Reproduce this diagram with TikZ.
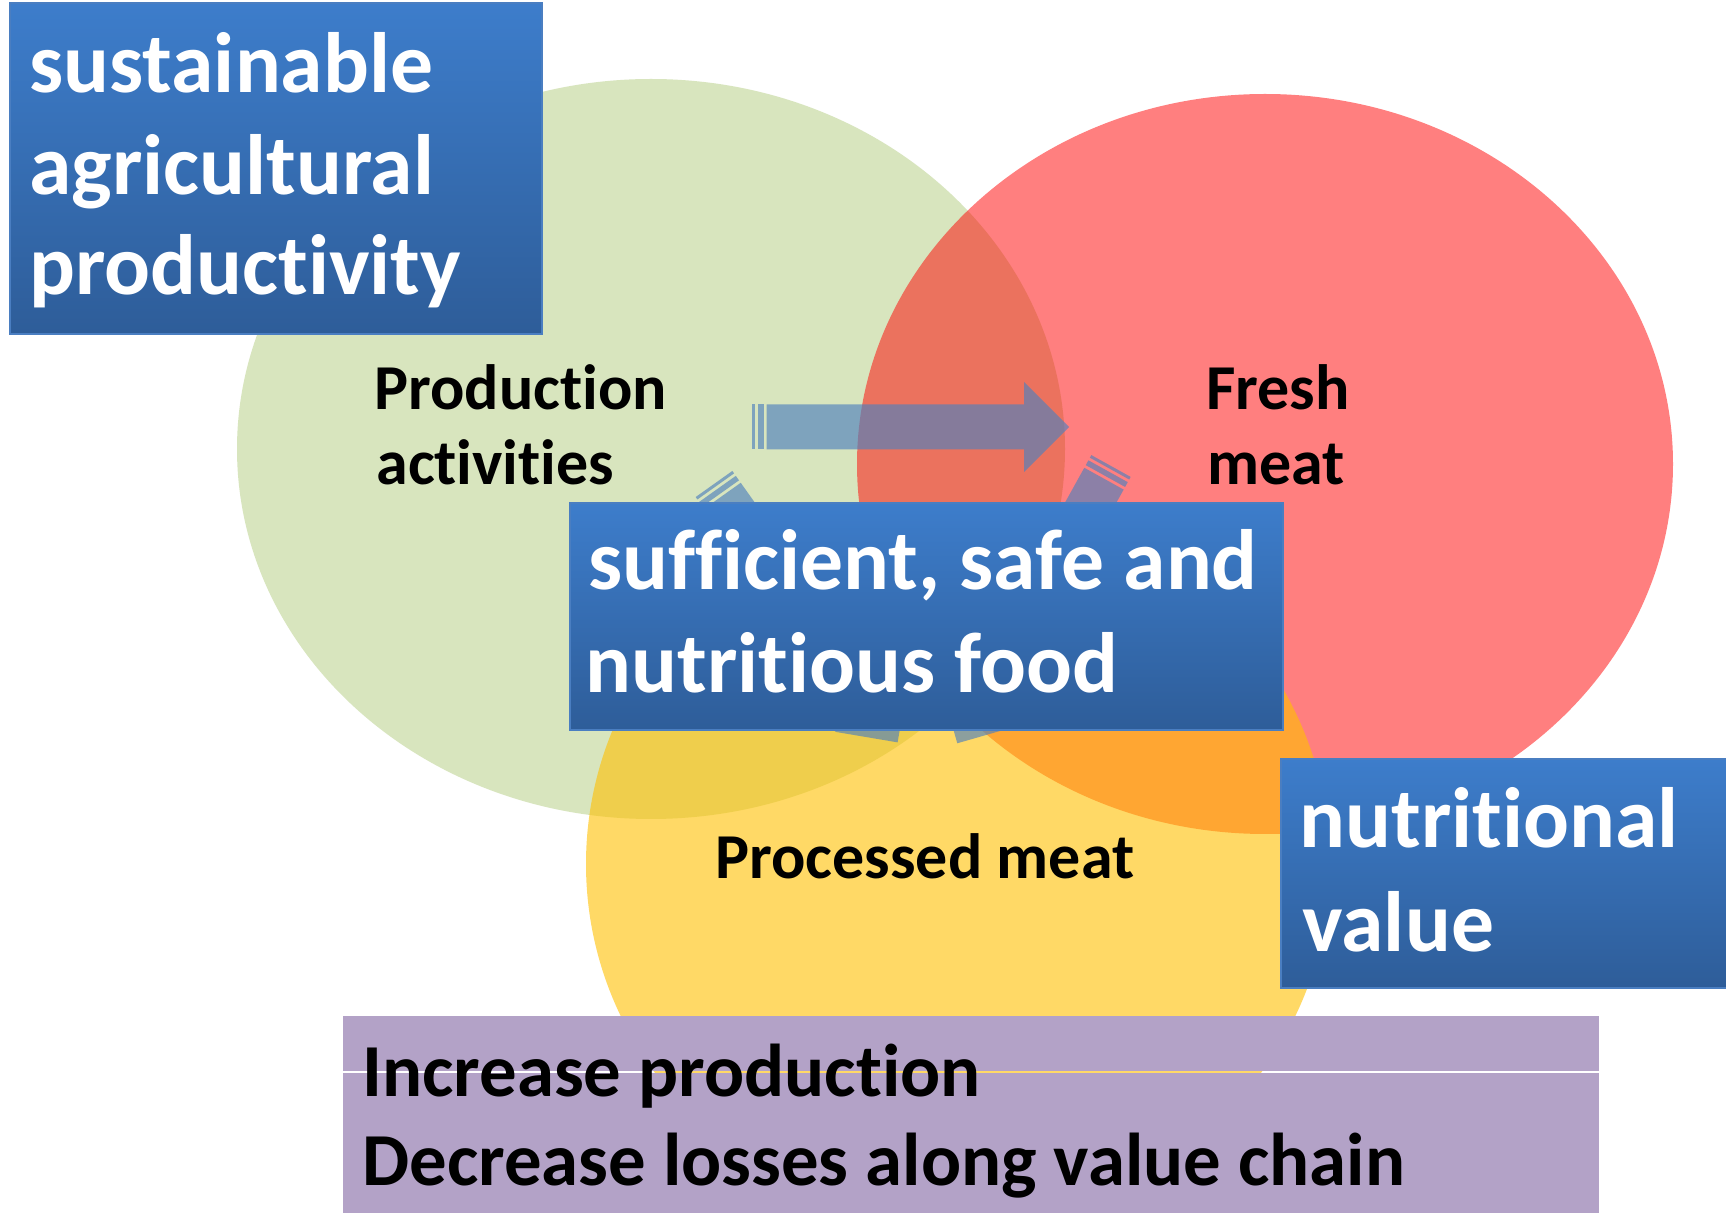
\documentclass[tikz,border=0pt]{standalone}
\usepackage{fontspec}
\setmainfont{Carlito}[Ligatures={NoCommon}]
\usetikzlibrary{shapes.geometric}
\definecolor{cgreen}{RGB}{216,229,190}
\definecolor{cred}{RGB}{255,0,0}
\definecolor{cyel}{RGB}{255,192,0}
\definecolor{carrow}{RGB}{79,129,189}
\definecolor{btop}{RGB}{61,125,203}
\definecolor{bbot}{RGB}{46,93,153}
\definecolor{bedge}{RGB}{74,126,193}
\definecolor{cpurp}{RGB}{179,162,199}
\newcommand{\stripearrow}[2]{%
  \begin{scope}[shift={#1}, rotate=#2]
    \fill[arrowfill] (0,-22.5) rectangle (3,22.5);
    \fill[arrowfill] (6,-22.5) rectangle (11.5,22.5);
    \fill[arrowfill] (14.5,-22.5) -- (272,-22.5) -- (272,-45) -- (317,0) -- (272,45) -- (272,22.5) -- (14.5,22.5) -- cycle;
  \end{scope}}
\begin{document}
\begin{tikzpicture}[x=0.5pt,y=-0.5pt,
  bigtxt/.style={anchor=base west, inner sep=0pt, text=white, font=\fontsize{42.8}{50}\selectfont\bfseries},
  lbl/.style={anchor=base west, inner sep=0pt, text=black, font=\fontsize{32}{38}\selectfont\bfseries},
  ptxt/.style={anchor=base west, inner sep=0pt, text=black, font=\fontsize{37.4}{44}\selectfont\bfseries},
  bluebox/.style={rectangle, anchor=north west, inner sep=0pt, top color=btop, bottom color=bbot, draw=bedge, line width=1pt},
  purpbox/.style={rectangle, anchor=north west, inner sep=0pt, fill=cpurp},
  blob/.style={ellipse, inner sep=0pt},
  arrowfill/.style={fill=carrow, fill opacity=0.65},
]
\useasboundingbox (0,0) rectangle (1726,1213);
\fill[white] (0,0) rectangle (1726,1213);

% circles
\node[blob, fill=cgreen, minimum width=414pt, minimum height=370pt] (green) at (651,449) {};
\node[blob, fill=cred, fill opacity=0.5, minimum width=408pt, minimum height=370pt] (red) at (1265,464) {};
\node[blob, fill=cyel, fill opacity=0.6, minimum width=372pt, minimum height=360pt] (yellow) at (958,864) {};

% arrows
\coordinate (tailA) at (752,427);
\coordinate (tailB) at (1111,466);
\coordinate (tailC) at (714,484);
\stripearrow{(tailA)}{0}
\stripearrow{(tailB)}{-119}
\stripearrow{(tailC)}{-54.6}

% labels
\node[lbl] (prod1) at (374,409.5) {Production};
\node[lbl] (prod2) at (376,484.4) {activities};
\node[lbl] (fresh1) at (1206,409.5) {Fresh};
\node[lbl] (fresh2) at (1207,484.4) {meat};
\node[lbl] (proc) at (715,879) {Processed meat};

% blue boxes
\node[bluebox, minimum width=266pt, minimum height=165.5pt] (boxA) at (9,2) {};
\node[bigtxt] (a1) at (29,93) {sustainable};
\node[bigtxt] (a2) at (29,195) {agricultural};
\node[bigtxt] (a3) at (29,295) {productivity};

\node[bluebox, minimum width=356.15pt, minimum height=113.65pt] (boxB) at (569.4,501.7) {};
\node[bigtxt] (b1) at (588,590) {sufficient, safe and};
\node[bigtxt] (b2) at (585,693) {nutritious food};

\node[bluebox, minimum width=225pt, minimum height=114.2pt] (boxC) at (1280,758.3) {};
\node[bigtxt] (c1) at (1299,848) {nutritional};
\node[bigtxt] (c2) at (1302,951.5) {value};

% purple box (two parts with a thin gap)
\node[purpbox, minimum width=628.3pt, minimum height=27.5pt] (boxD1) at (342.4,1016) {};
\node[purpbox, minimum width=628.3pt, minimum height=74pt] (boxD2) at (342.4,1072.5) {};
\node[ptxt] (d1) at (362,1096.7) {Increase production};
\node[ptxt] (d2) at (362,1185) {Decrease losses along value chain};
\end{tikzpicture}
\end{document}
